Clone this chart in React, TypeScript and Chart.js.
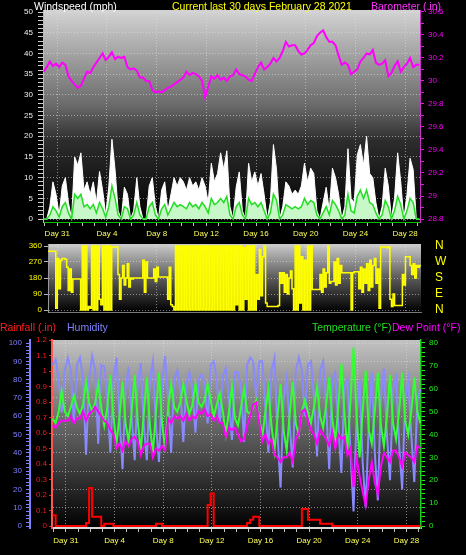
import React, { useEffect, useRef } from 'react';
import { Chart, registerables } from 'chart.js';

Chart.register(...registerables);

const FONT = '"Liberation Sans", Arial, Helvetica, sans-serif';
Chart.defaults.font.family = FONT;

// ---- time axis: days relative to Jan 31 00:00 ----
const X_MIN = -1.15;
const X_MAX = 29.2;
const DIR_X_MIN = -0.75;
const DIR_X_MAX = 29.25;
const DAY_TICK_VALUES = [0, 4, 8, 12, 16, 20, 24, 28];
const DAY_TICK_LABELS = ['Day 31', 'Day 4', 'Day 8', 'Day 12', 'Day 16', 'Day 20', 'Day 24', 'Day 28'];

// series sampling (start time, step in days)
const SERIES_START = -1.1;
const SERIES_STEP = 0.25;
const DIR_START = -1;
const DIR_STEP = 0.125;

// ---- tick labels ----
const WIND_TICKS = [0, 5, 10, 15, 20, 25, 30, 35, 40, 45, 50];
const BARO_TICKS = [28.8, 29, 29.2, 29.4, 29.6, 29.8, 30, 30.2, 30.4, 30.6];
const DIR_TICKS = [0, 90, 180, 270, 360];
const DIR_COMPASS = ['N', 'E', 'S', 'W', 'N'];
const HUM_TICKS = [0, 10, 20, 30, 40, 50, 60, 70, 80, 90, 100];
const RAIN_TICKS = [0, 0.1, 0.2, 0.3, 0.4, 0.5, 0.6, 0.7, 0.8, 0.9, 1, 1.1, 1.2];
const TEMP_TICKS = [0, 10, 20, 30, 40, 50, 60, 70, 80];

// ---- data ----
const BAROMETER = [
  30.08, 30.12, 30.17, 30.13, 30.15, 30.12, 30.16, 30.14, 30.04, 30.0,
  29.97, 29.94, 29.96, 30.02, 30.08, 30.07, 30.12, 30.16, 30.2, 30.24,
  30.18, 30.21, 30.25, 30.19, 30.21, 30.2, 30.21, 30.12, 30.1, 30.11,
  30.09, 30.03, 30.03, 30.0, 30.0, 29.92, 29.9, 29.91, 29.9, 29.92,
  29.94, 29.95, 29.97, 29.99, 30.01, 30.03, 30.08, 30.05, 30.07, 30.06,
  30.04, 30.0, 29.86, 29.95, 30.04, 30.02, 30.05, 30.01, 30.03, 30.0,
  30.04, 30.05, 30.1, 30.06, 30.05, 30.04, 30.01, 30.0, 30.06, 30.12,
  30.16, 30.1, 30.12, 30.15, 30.2, 30.17, 30.2, 30.26, 30.34, 30.3,
  30.31, 30.31, 30.26, 30.23, 30.24, 30.27, 30.31, 30.33, 30.39, 30.42,
  30.44, 30.38, 30.34, 30.34, 30.31, 30.22, 30.14, 30.16, 30.14, 30.06,
  30.08, 30.1, 30.17, 30.2, 30.24, 30.23, 30.27, 30.16, 30.14, 30.15,
  30.18, 30.04, 30.07, 30.13, 30.17, 30.08, 30.12, 30.15, 30.2, 30.12,
  30.14, 30.14,
];

const WIND_GUST = [
  0, 0, 3, 9, 6, 1, 8, 10, 4, 0,
  15, 13, 16, 7, 9, 6, 9, 4, 11.5, 7,
  1, 8, 19.3, 12, 2, 0, 7.7, 6, 0, 2,
  10, 3, 0, 0, 8, 10, 3, 0, 7, 9,
  2, 6, 10, 8, 10, 9, 7, 10, 8, 9,
  7, 10, 8, 4, 13.5, 9, 11, 16, 12, 16.5,
  3, 0, 7.7, 11.4, 2, 0, 13.5, 9, 11.4, 8,
  11, 6, 0, 4, 18, 12, 0, 3, 9, 8,
  6, 7, 6, 8, 13.5, 9, 12.3, 11, 2, 0,
  4, 7.7, 2, 12.3, 10, 6, 0, 3, 17, 5,
  4, 15.5, 18, 13, 20, 11, 10, 4, 0, 3,
  12.3, 8, 0, 5, 16, 9, 0, 6, 14.7, 12,
  0, 0,
];

const WIND_AVG = [
  0, 0, 1, 3, 2, 0.5, 3, 4, 1.5, 0,
  6, 5, 6, 3, 3.5, 2.5, 3.5, 1.5, 4, 2.5,
  0.5, 3, 8, 5, 1, 0, 3, 2.5, 0, 1,
  4, 1, 0, 0, 3, 4, 1, 0, 2.5, 3.5,
  1, 2.5, 4, 3, 3.5, 3, 2.5, 4, 3, 3.5,
  2.5, 4, 3, 1.5, 5, 3.5, 4, 5, 4, 5.5,
  1, 0, 3, 4, 1, 0, 5, 3.5, 4, 3,
  4, 2, 0, 1.5, 6, 4.5, 0, 1, 3.5, 3,
  2.5, 3, 2.5, 3, 5, 3.5, 4.5, 4, 1, 0,
  1.5, 3, 1, 4.5, 3.5, 2, 0, 1, 6, 2,
  1.5, 5.5, 7, 5, 7, 4, 3.5, 1.5, 0, 1,
  4.5, 3, 0, 2, 5.5, 3.5, 0, 2, 5, 4,
  0, 0,
];

const WIND_DIR = [
  330, 330, 330, 330, 330, 330, 330, 10,
  290, 120, 280, 290, 290, 285, 240, 110,
  230, 100, 175, 175, 175, 175, 175, 0,
  360, 0, 360, 0, 20, 10, 360, 0,
  360, 0, 360, 60, 30, 360, 0, 360,
  0, 360, 0, 355, 355, 355, 355, 200,
  60, 180, 250, 140, 180, 260, 130, 180,
  175, 180, 180, 180, 180, 180, 180, 280,
  100, 270, 180, 180, 180, 180, 230, 160,
  240, 185, 185, 185, 185, 185, 185, 60,
  240, 30, 20, 0, 360, 0, 360, 0,
  360, 0, 360, 0, 360, 0, 360, 0,
  360, 0, 360, 0, 360, 0, 360, 0,
  360, 0, 360, 0, 360, 0, 360, 0,
  360, 0, 360, 0, 360, 0, 360, 0,
  360, 0, 360, 30, 360, 0, 360, 0,
  350, 60, 360, 0, 360, 0, 360, 0,
  200, 60, 340, 80, 300, 360, 40, 20,
  20, 20, 20, 20, 20, 20, 25, 210,
  150, 210, 100, 200, 90, 180, 220, 120,
  0, 360, 0, 360, 40, 300, 0, 280,
  0, 360, 0, 360, 115, 115, 115, 115,
  115, 200, 100, 230, 130, 210, 360, 150,
  160, 160, 270, 140, 290, 150, 250, 210,
  210, 210, 210, 210, 210, 0, 210, 215,
  215, 215, 120, 240, 100, 230, 150, 260,
  110, 280, 130, 250, 290, 150, 230, 10,
  355, 355, 355, 355, 350, 355, 60, 20,
  90, 25, 25, 25, 25, 25, 200, 140,
  300, 300, 300, 250, 200, 260, 180, 250,
  240, 250, 250,
];

const TEMPERATURE = [
  47,
  45, 50, 59, 50,
  48, 52, 57, 52,
  49, 53, 63, 54,
  50, 54, 62, 52,
  44, 52, 66, 48,
  36, 48, 63, 45,
  37, 50, 66, 46,
  33, 49, 65, 44,
  32, 50, 67, 45,
  34, 52, 62, 52,
  50, 54, 62, 55,
  49, 53, 62, 54,
  52, 55, 62, 55,
  48, 53, 58, 50,
  40, 50, 61, 47,
  44, 52, 60, 50,
  49, 52, 55, 47,
  39, 50, 60, 44,
  33, 48, 62, 42,
  33, 49, 63, 45,
  40, 50, 55, 50,
  45, 52, 61, 48,
  43, 53, 65, 47,
  37, 52, 71, 50,
  33, 55, 78, 48,
  30, 50, 68, 42,
  36, 50, 67, 44,
  35, 48, 66, 45,
  38, 50, 67, 46,
  40, 50, 65, 50,
  45,
];

const HUMIDITY = [
  88,
  91, 80, 62, 85,
  92, 85, 56, 88,
  92, 80, 39, 80,
  93, 85, 45, 88,
  87, 70, 40, 80,
  92, 60, 31, 75,
  87, 60, 36, 78,
  89, 55, 36, 80,
  90, 55, 35, 78,
  93, 70, 40, 80,
  85, 75, 46, 78,
  84, 75, 51, 80,
  83, 78, 56, 88,
  90, 80, 56, 82,
  86, 70, 47, 84,
  84, 75, 46, 88,
  92, 90, 70, 90,
  90, 65, 40, 85,
  92, 50, 21, 70,
  81, 55, 32, 85,
  92, 85, 60, 88,
  90, 70, 38, 85,
  90, 65, 31, 80,
  84, 55, 29, 75,
  80, 40, 8, 60,
  80, 35, 10, 55,
  84, 40, 14, 70,
  86, 50, 25, 75,
  81, 45, 20, 70,
  80, 50, 24, 69,
  75,
];

const DEW_POINT = [
  44,
  43, 45, 46, 46,
  46, 48, 45, 47,
  47, 50, 46, 49,
  50, 52, 50, 48,
  46, 45, 42, 40,
  34, 36, 33, 37,
  35, 38, 39, 37,
  31, 35, 36, 36,
  30, 34, 33, 35,
  33, 47, 45, 48,
  47, 48, 46, 49,
  46, 48, 47, 50,
  49, 51, 48, 49,
  46, 48, 45, 45,
  39, 43, 42, 43,
  40, 37, 38, 44,
  48, 53, 54, 45,
  37, 40, 36, 38,
  31, 30, 28, 30,
  30, 32, 28, 38,
  40, 50, 51, 46,
  42, 40, 36, 42,
  40, 38, 35, 41,
  34, 40, 38, 39,
  31, 34, 17, 30,
  22, 15, 9, 20,
  28, 19, 14, 26,
  32, 30, 28, 33,
  33, 30, 26, 32,
  31, 30, 28, 35,
  34,
];

const RAINFALL = [
  0.07, 0, 0, 0, 0, 0, 0, 0, 0, 0,
  0, 0.02, 0.245, 0.06, 0.06, 0.06, 0, 0.015, 0.015, 0.015,
  0, 0, 0, 0, 0, 0, 0, 0, 0, 0,
  0, 0, 0, 0, 0.015, 0.015, 0, 0, 0, 0,
  0, 0, 0, 0, 0, 0, 0, 0, 0, 0,
  0, 0.135, 0.21, 0, 0, 0, 0, 0, 0, 0,
  0, 0, 0, 0, 0.02, 0.04, 0.06, 0.06, 0, 0,
  0, 0, 0, 0, 0, 0, 0, 0, 0, 0,
  0, 0, 0.11, 0.11, 0.04, 0.04, 0.04, 0.04, 0.015, 0.015,
  0.015, 0.015, 0, 0, 0, 0, 0, 0, 0, 0,
  0, 0, 0, 0, 0, 0, 0, 0, 0, 0,
  0, 0, 0, 0, 0, 0, 0, 0, 0, 0,
  0, 0,
];

// ---- colours ----
const GRID = 'rgba(225,225,225,0.55)';
const DAY_COLOR = '#ffff55';
const MAGENTA = '#ff00ff';
const YELLOW = '#ffff00';
const HUM_BLUE = '#8080ff';
const RAIN_RED = '#ff1a1a';
const TEMP_GREEN = '#22ee22';

// ---- helpers ----
const range = (a: number, b: number, s: number) => {
  const out: number[] = [];
  for (let v = a; v <= b + 1e-9; v += s) out.push(Math.round(v * 1000) / 1000);
  return out;
};
const series = (vals: number[], start: number, step: number) =>
  vals.map((v, i) => ({ x: start + i * step, y: v }));
const setTicks = (vals: number[]) => (s: any) => {
  s.ticks = vals.map((v) => ({ value: v }));
};
const fixSize = (w?: number, h?: number) => (s: any) => {
  if (w !== undefined) s.width = w;
  if (h !== undefined) s.height = h;
  s.paddingTop = 0;
  s.paddingBottom = 0;
  s.paddingLeft = 0;
  s.paddingRight = 0;
};
const isIn = (list: number[], v: number) => list.some((t) => Math.abs(t - v) < 1e-6);
const fmtNum = (v: number) => String(Math.round(v * 10) / 10);
const dayLabel = (v: any) => {
  const i = DAY_TICK_VALUES.indexOf(Number(v));
  return i >= 0 ? DAY_TICK_LABELS[i] : '';
};
const dayGrid = (c: any) => (c.tick && DAY_TICK_VALUES.includes(c.tick.value) ? GRID : 'rgba(0,0,0,0)');
const DAY_MINOR = range(-1, 29, 1);

const bgPlugin = (stops: [number, string][]) => ({
  id: 'plotBg',
  beforeDraw(chart: any) {
    const { ctx, chartArea: a } = chart;
    if (!a) return;
    const g = ctx.createLinearGradient(0, a.top, 0, a.bottom);
    stops.forEach(([o, c]) => g.addColorStop(o, c));
    ctx.save();
    ctx.fillStyle = g;
    ctx.fillRect(a.left, a.top, a.right - a.left, a.bottom - a.top);
    ctx.restore();
  },
});

const basePlugins = {
  legend: { display: false },
  tooltip: { enabled: false },
  title: { display: false },
};

const tickFont = { size: 8, family: FONT };

function topConfig(): any {
  return {
    type: 'line',
    data: {
      datasets: [
        {
          data: series(BAROMETER, SERIES_START, SERIES_STEP),
          yAxisID: 'yb',
          borderColor: MAGENTA,
          borderWidth: 2,
          pointRadius: 0,
          fill: false,
          order: 0,
        },
        {
          data: series(WIND_AVG, SERIES_START, SERIES_STEP),
          yAxisID: 'y',
          borderColor: '#22dd22',
          backgroundColor: '#c8f7c8',
          borderWidth: 1.5,
          pointRadius: 0,
          fill: 'origin',
          order: 1,
        },
        {
          data: series(WIND_GUST, SERIES_START, SERIES_STEP),
          yAxisID: 'y',
          borderColor: '#ffffff',
          backgroundColor: '#ffffff',
          borderWidth: 1,
          pointRadius: 0,
          fill: 'origin',
          order: 2,
        },
      ],
    },
    options: {
      animation: false,
      responsive: false,
      events: [],
      layout: { padding: { top: 10, left: 0, right: 0, bottom: 0 } },
      plugins: basePlugins,
      scales: {
        x: {
          type: 'linear',
          min: X_MIN,
          max: X_MAX,
          afterBuildTicks: setTicks(DAY_MINOR),
          afterFit: fixSize(undefined, 18),
          ticks: { autoSkip: false, maxRotation: 0, minRotation: 0, color: DAY_COLOR, font: tickFont, padding: 3, callback: dayLabel },
          grid: { color: dayGrid, tickColor: 'rgba(255,255,255,0.75)', tickLength: 4 },
          border: { color: '#00c000', dash: [1, 2] },
        },
        y: {
          axis: 'y',
          position: 'left',
          min: -0.7,
          max: 50.5,
          afterBuildTicks: setTicks(range(0, 50, 1)),
          afterFit: fixSize(43),
          ticks: { autoSkip: false, color: '#eeeeee', font: tickFont, padding: 5, callback: (v: any) => (isIn(WIND_TICKS, v) ? String(v) : '') },
          grid: {
            color: (c: any) => (c.tick && isIn(WIND_TICKS, c.tick.value) ? GRID : 'rgba(0,0,0,0)'),
            tickColor: 'rgba(255,255,255,0.8)',
            tickLength: 5,
          },
          border: { color: '#bbbbbb', dash: [1, 2] },
        },
        yb: {
          axis: 'y',
          position: 'right',
          min: 28.774,
          max: 30.617,
          afterBuildTicks: setTicks(range(28.8, 30.6, 0.1)),
          afterFit: fixSize(46),
          ticks: { autoSkip: false, color: MAGENTA, font: tickFont, padding: 4, callback: (v: any) => (isIn(BARO_TICKS, v) ? fmtNum(v) : '') },
          grid: { drawOnChartArea: false, tickColor: MAGENTA, tickLength: 4 },
          border: { color: '#cc33cc' },
        },
      },
    },
    plugins: [bgPlugin([[0, '#d4d4d4'], [0.45, '#6a6a6a'], [0.62, '#2c2c2c'], [1, '#000000']])],
  };
}

function midConfig(): any {
  return {
    type: 'line',
    data: {
      datasets: [
        {
          data: series(WIND_DIR, DIR_START, DIR_STEP),
          yAxisID: 'y',
          borderColor: YELLOW,
          borderWidth: 1.5,
          pointRadius: 0,
          stepped: true,
          fill: false,
        },
      ],
    },
    options: {
      animation: false,
      responsive: false,
      events: [],
      layout: { padding: { top: 4, left: 0, right: 0, bottom: 0 } },
      plugins: basePlugins,
      scales: {
        x: {
          type: 'linear',
          min: DIR_X_MIN,
          max: DIR_X_MAX,
          afterBuildTicks: setTicks(DAY_MINOR),
          afterFit: fixSize(undefined, 6),
          ticks: { display: false },
          grid: { color: dayGrid, drawTicks: false },
          border: { color: '#777777', dash: [1, 2] },
        },
        y: {
          axis: 'y',
          position: 'left',
          min: -11.25,
          max: 371.25,
          afterBuildTicks: setTicks(DIR_TICKS),
          afterFit: fixSize(48),
          ticks: { autoSkip: false, color: YELLOW, font: tickFont, padding: 2, callback: (v: any) => String(v) },
          grid: { color: GRID, tickColor: 'rgba(255,255,255,0.7)', tickLength: 4 },
          border: { color: '#999999', dash: [1, 2] },
        },
        y2: {
          axis: 'y',
          position: 'right',
          min: -11.25,
          max: 371.25,
          afterBuildTicks: setTicks(DIR_TICKS),
          afterFit: fixSize(45),
          ticks: {
            autoSkip: false,
            color: YELLOW,
            font: { size: 12, family: FONT },
            padding: 14,
            callback: (v: any) => DIR_COMPASS[DIR_TICKS.indexOf(Number(v))] ?? '',
          },
          grid: { drawOnChartArea: false, drawTicks: false },
          border: { display: false },
        },
      },
    },
    plugins: [bgPlugin([[0, '#cccccc'], [0.5, '#5a5a5a'], [1, '#000000']])],
  };
}

function bottomConfig(): any {
  const common = { pointRadius: 0, fill: false, borderWidth: 2 };
  return {
    type: 'line',
    data: {
      datasets: [
        { ...common, data: series(RAINFALL, SERIES_START, SERIES_STEP), yAxisID: 'yr', borderColor: '#ff0000', stepped: true, order: 0 },
        { ...common, data: series(DEW_POINT, SERIES_START, SERIES_STEP), yAxisID: 'yt', borderColor: MAGENTA, order: 1 },
        { ...common, data: series(TEMPERATURE, SERIES_START, SERIES_STEP), yAxisID: 'yt', borderColor: '#33ff33', order: 2 },
        { ...common, data: series(HUMIDITY, SERIES_START, SERIES_STEP), yAxisID: 'yh', borderColor: '#8a8aff', order: 3 },
      ],
    },
    options: {
      animation: false,
      responsive: false,
      events: [],
      layout: { padding: { top: 22, left: 0, right: 0, bottom: 0 } },
      plugins: basePlugins,
      scales: {
        x: {
          type: 'linear',
          min: X_MIN,
          max: X_MAX,
          afterBuildTicks: setTicks(DAY_MINOR),
          afterFit: fixSize(undefined, 27),
          ticks: { autoSkip: false, maxRotation: 0, minRotation: 0, color: DAY_COLOR, font: tickFont, padding: 4, callback: dayLabel },
          grid: { color: dayGrid, tickColor: 'rgba(255,255,255,0.75)', tickLength: 4 },
          border: { color: '#d8d8d8', width: 2, dash: [1, 2] },
        },
        yh: {
          axis: 'y',
          position: 'left',
          weight: 1,
          min: -1.09,
          max: 101.64,
          afterBuildTicks: setTicks(range(0, 100, 2)),
          afterFit: fixSize(30),
          ticks: { autoSkip: false, color: HUM_BLUE, font: tickFont, padding: 4, callback: (v: any) => (isIn(HUM_TICKS, v) ? String(v) : '') },
          grid: {
            color: (c: any) => (c.tick && isIn(HUM_TICKS, c.tick.value) && c.tick.value > 0 ? GRID : 'rgba(0,0,0,0)'),
            tickColor: HUM_BLUE,
            tickLength: 4,
          },
          border: { color: HUM_BLUE, width: 2, dash: [1, 2] },
        },
        yr: {
          axis: 'y',
          position: 'left',
          weight: 0,
          min: -0.0129,
          max: 1.2,
          afterBuildTicks: setTicks(RAIN_TICKS),
          afterFit: fixSize(22),
          ticks: { autoSkip: false, color: RAIN_RED, font: tickFont, padding: 2, callback: (v: any) => fmtNum(v) },
          grid: { drawOnChartArea: false, tickColor: RAIN_RED, tickLength: 3 },
          border: { color: '#ff5555', width: 2 },
        },
        yt: {
          axis: 'y',
          position: 'right',
          min: -0.874,
          max: 81.31,
          afterBuildTicks: setTicks(range(0, 80, 2)),
          afterFit: fixSize(45),
          ticks: { autoSkip: false, color: TEMP_GREEN, font: tickFont, padding: 4, callback: (v: any) => (isIn(TEMP_TICKS, v) ? String(v) : '') },
          grid: { drawOnChartArea: false, tickColor: TEMP_GREEN, tickLength: 4 },
          border: { color: '#22cc22', width: 1.5 },
        },
      },
    },
    plugins: [bgPlugin([[0, '#c2c2c2'], [0.5, '#5e5e5e'], [1, '#000000']])],
  };
}

const headStyle = (left: number, top: number, color: string): React.CSSProperties => ({
  position: 'absolute',
  left,
  top,
  color,
  fontFamily: FONT,
  fontSize: '10.5px',
  lineHeight: '11px',
  whiteSpace: 'nowrap',
});

export default function App() {
  const r1 = useRef<HTMLCanvasElement>(null);
  const r2 = useRef<HTMLCanvasElement>(null);
  const r3 = useRef<HTMLCanvasElement>(null);

  useEffect(() => {
    const c1 = new Chart(r1.current as HTMLCanvasElement, topConfig());
    const c2 = new Chart(r2.current as HTMLCanvasElement, midConfig());
    const c3 = new Chart(r3.current as HTMLCanvasElement, bottomConfig());
    return () => {
      c1.destroy();
      c2.destroy();
      c3.destroy();
    };
  }, []);

  return (
    <div
      style={{
        position: 'fixed',
        left: 0,
        top: 0,
        width: 466,
        height: 555,
        background: '#000',
        overflow: 'hidden',
      }}
    >
      <canvas ref={r1} width={466} height={240} style={{ position: 'absolute', left: 0, top: 0, width: 466, height: 240 }} />
      <canvas ref={r2} width={466} height={78} style={{ position: 'absolute', left: 0, top: 240, width: 466, height: 78 }} />
      <canvas ref={r3} width={466} height={237} style={{ position: 'absolute', left: 0, top: 318, width: 466, height: 237 }} />
      <span style={headStyle(34, 1, '#ffffff')}>Windspeed (mph)</span>
      <span style={headStyle(172, 1, '#ffff00')}>Current last 30 days February 28 2021</span>
      <span style={headStyle(371, 1, '#ff33ff')}>Barometer (.in)</span>
      <span style={headStyle(0, 322, '#ff2020')}>Rainfall (.in)</span>
      <span style={headStyle(67, 322, '#8080ff')}>Humidity</span>
      <span style={headStyle(312, 322, '#22dd22')}>Temperature (°F)</span>
      <span style={headStyle(392, 322, '#ff00ff')}>Dew Point (°F)</span>
    </div>
  );
}
